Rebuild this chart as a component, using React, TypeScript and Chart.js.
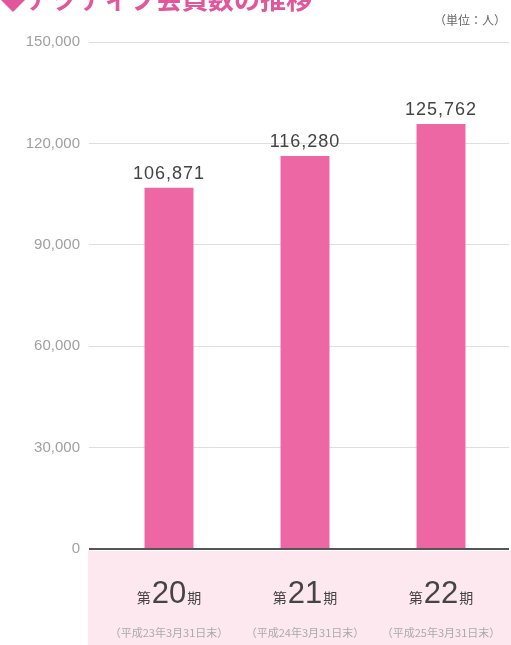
import React, { useEffect, useRef } from "react";
import { Chart, registerables } from "chart.js";

Chart.register(...registerables);

const titleText = "◆アクティブ会員数の推移";
const unitText = "（単位：人）";
const periodNumbers = ["20", "21", "22"];
const periodDates = ["（平成23年3月31日末）", "（平成24年3月31日末）", "（平成25年3月31日末）"];
const categories = ["第20期", "第21期", "第22期"];
const members = [106871, 116280, 125762];
const yTicks = [0, 30000, 60000, 90000, 120000, 150000];

const BAR = "#ec67a3";
const JP = '"Noto Sans CJK JP"';
const LAT = '"Liberation Sans", Arial, sans-serif';

const decorPlugin = {
  id: "decor",
  afterDraw(chart: any) {
    const ctx = chart.ctx;
    const area = chart.chartArea;
    const xs = chart.scales.x;
    ctx.save();
    // pink band
    ctx.fillStyle = "#fde8ef";
    ctx.fillRect(88, area.bottom + 2, chart.width - 88, chart.height - area.bottom - 2);

    // category labels
    for (let i = 0; i < categories.length; i++) {
      const cx = xs.getPixelForValue(i);
      const small = `14px ${JP}`;
      const big = `31px ${LAT}`;
      ctx.font = small;
      const w1 = ctx.measureText("第").width;
      const w3 = ctx.measureText("期").width;
      ctx.font = big;
      const w2 = ctx.measureText(periodNumbers[i]).width;
      const total = w1 + w2 + w3 + 2;
      let x = cx - total / 2;
      const base = 603;
      ctx.textAlign = "left";
      ctx.textBaseline = "alphabetic";
      ctx.fillStyle = "#444";
      ctx.font = small;
      ctx.fillText("第", x, base);
      x += w1 + 1;
      ctx.font = big;
      ctx.fillText(periodNumbers[i], x, base);
      x += w2 + 1;
      ctx.font = small;
      ctx.fillText("期", x, base);

      ctx.font = `11px ${JP}`;
      ctx.fillStyle = "#aaa";
      ctx.textAlign = "center";
      ctx.fillText(periodDates[i], cx, 637);
    }

    // data labels
    const meta = chart.getDatasetMeta(0);
    ctx.font = `18px ${LAT}`;
    (ctx as any).letterSpacing = "1px";
    ctx.fillStyle = "#444";
    ctx.textAlign = "center";
    ctx.textBaseline = "bottom";
    meta.data.forEach((bar: any, i: number) => {
      ctx.fillText(members[i].toLocaleString("en-US"), bar.x, bar.y - 5);
    });
    (ctx as any).letterSpacing = "0px";

    // title
    ctx.font = `bold 26px ${JP}`;
    ctx.fillStyle = "#e2569b";
    ctx.textAlign = "left";
    ctx.textBaseline = "alphabetic";
    ctx.fillText(titleText, 0, 9);

    // unit
    ctx.font = `12px ${JP}`;
    ctx.fillStyle = "#666";
    ctx.textAlign = "right";
    ctx.fillText(unitText, 506, 25);
    ctx.restore();
  },
};

export default function App() {
  const ref = useRef<HTMLCanvasElement>(null);
  useEffect(() => {
    if (!ref.current) return;
    const chart = new Chart(ref.current, {
      type: "bar",
      data: {
        labels: categories,
        datasets: [
          {
            data: members,
            backgroundColor: BAR,
            barPercentage: 0.36,
            categoryPercentage: 1,
          },
        ],
      },
      options: {
        responsive: false,
        animation: false,
        layout: { padding: { top: 42, right: 2, bottom: 96, left: 0 } },
        plugins: { legend: { display: false }, tooltip: { enabled: false } },
        scales: {
          x: { display: false },
          y: {
            min: 0,
            max: 150000,
            afterBuildTicks: (s: any) => {
              s.ticks = yTicks.map((v) => ({ value: v }));
            },
            afterFit: (s: any) => {
              s.width = 101;
            },
            ticks: {
              color: "#a0a0a0",
              padding: 9,
              font: { size: 15, family: LAT },
              callback: (v: any) => Number(v).toLocaleString("en-US"),
            },
            grid: {
              color: (c: any) => (c.tick && c.tick.value === 0 ? "#555" : "#dedede"),
              lineWidth: (c: any) => (c.tick && c.tick.value === 0 ? 2 : 1),
              tickLength: 12,
            },
            border: { display: false },
          },
        },
      },
      plugins: [decorPlugin],
    });
    return () => chart.destroy();
  }, []);
  return (
    <div style={{ position: "absolute", left: 0, top: 0, width: 511, height: 645, background: "#fff" }}>
      <canvas ref={ref} width={511} height={645} />
    </div>
  );
}
